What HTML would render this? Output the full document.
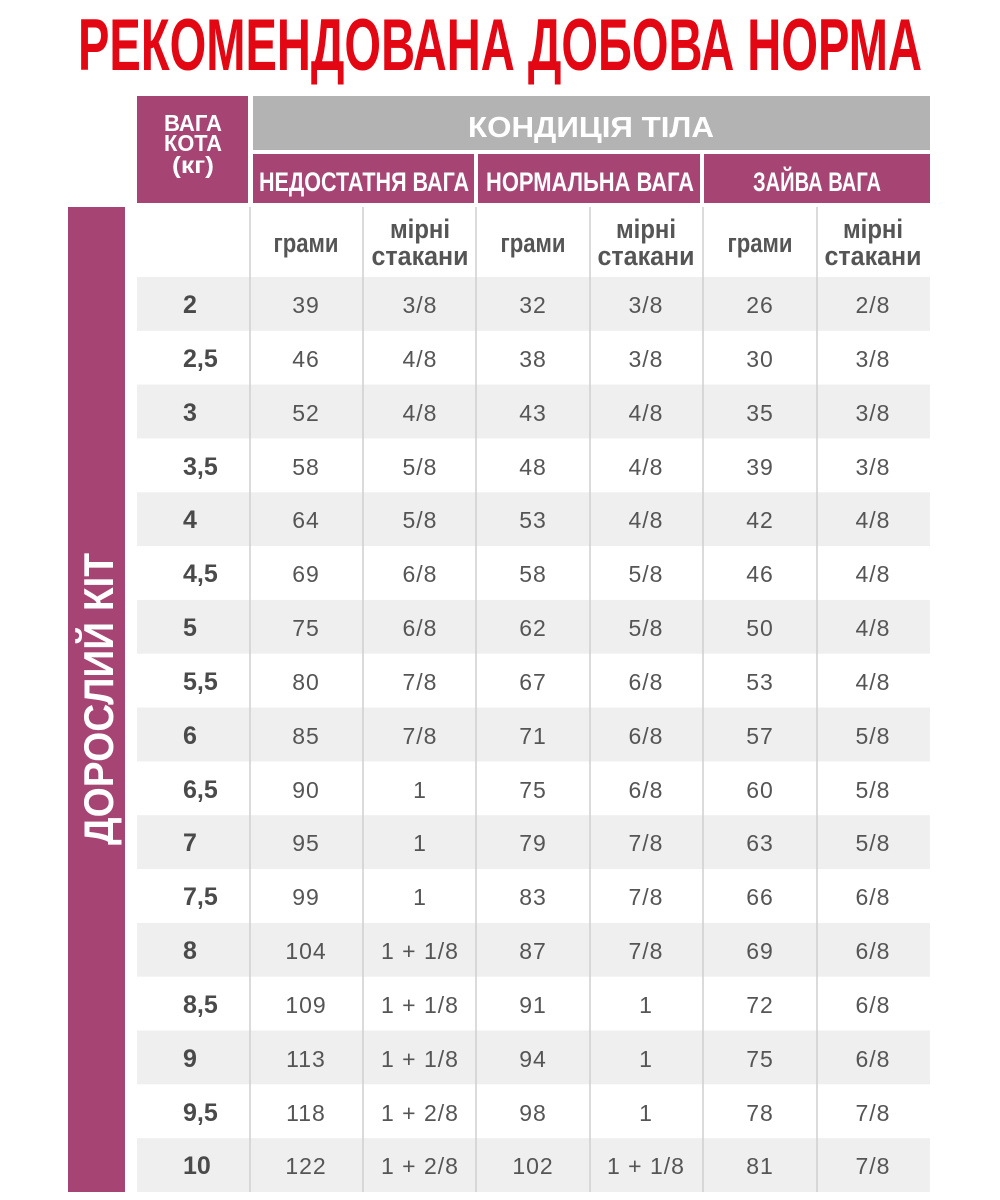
<!DOCTYPE html>
<html><head><meta charset="utf-8"><style>html,body{margin:0;padding:0;background:#fff}svg{display:block}</style></head>
<body>
<svg xmlns="http://www.w3.org/2000/svg" width="1000" height="1200" viewBox="0 0 1000 1200" font-family="Liberation Sans, DejaVu Sans, sans-serif">
<rect width="1000" height="1200" fill="#fff"/>
<text x="500" y="70" font-size="73" font-weight="bold" fill="#e30613" text-anchor="middle" textLength="844" lengthAdjust="spacingAndGlyphs">РЕКОМЕНДОВАНА ДОБОВА НОРМА</text>
<rect x="137" y="96" width="111" height="107" fill="#a64574"/>
<rect x="253" y="96" width="677" height="54" fill="#b3b3b3"/>
<rect x="253" y="154" width="221" height="49" fill="#a64574"/>
<rect x="478" y="154" width="222" height="49" fill="#a64574"/>
<rect x="704" y="154" width="226" height="49" fill="#a64574"/>
<rect x="68" y="207" width="57" height="985" fill="#a64574"/>
<g fill="#fff" font-weight="bold" text-anchor="middle">
<text x="193" y="131" font-size="23" textLength="58" lengthAdjust="spacingAndGlyphs">ВАГА</text>
<text x="193" y="151" font-size="23" textLength="58" lengthAdjust="spacingAndGlyphs">КОТА</text>
<text x="193" y="173" font-size="23" textLength="42" lengthAdjust="spacingAndGlyphs">(кг)</text>
<text x="591" y="137" font-size="29" textLength="246" lengthAdjust="spacingAndGlyphs">КОНДИЦІЯ ТІЛА</text>
<text x="364" y="191" font-size="27" textLength="210" lengthAdjust="spacingAndGlyphs">НЕДОСТАТНЯ ВАГА</text>
<text x="590" y="191" font-size="27" textLength="208" lengthAdjust="spacingAndGlyphs">НОРМАЛЬНА ВАГА</text>
<text x="817" y="191" font-size="27" textLength="128" lengthAdjust="spacingAndGlyphs">ЗАЙВА ВАГА</text>
<text transform="translate(113,699) rotate(-90)" font-size="42" textLength="292" lengthAdjust="spacingAndGlyphs">ДОРОСЛИЙ КІТ</text>
</g>
<g fill="#efefef">
<rect x="137" y="277" width="793" height="53.8"/>
<rect x="137" y="384.6" width="793" height="53.8"/>
<rect x="137" y="492.3" width="793" height="53.8"/>
<rect x="137" y="599.9" width="793" height="53.8"/>
<rect x="137" y="707.6" width="793" height="53.8"/>
<rect x="137" y="815.2" width="793" height="53.8"/>
<rect x="137" y="922.9" width="793" height="53.8"/>
<rect x="137" y="1030.5" width="793" height="53.8"/>
<rect x="137" y="1138.2" width="793" height="53.8"/>
</g>
<g stroke="#cfcfcf" stroke-width="1.5">
<line x1="250" y1="207" x2="250" y2="1192"/>
<line x1="363" y1="207" x2="363" y2="1192"/>
<line x1="476" y1="207" x2="476" y2="1192"/>
<line x1="590" y1="207" x2="590" y2="1192"/>
<line x1="703" y1="207" x2="703" y2="1192"/>
<line x1="817" y1="207" x2="817" y2="1192"/>
</g>
<g fill="#555" font-weight="bold" text-anchor="middle" font-size="27">
<text x="306" y="252" textLength="65" lengthAdjust="spacingAndGlyphs">грами</text>
<text x="533" y="252" textLength="65" lengthAdjust="spacingAndGlyphs">грами</text>
<text x="760" y="252" textLength="65" lengthAdjust="spacingAndGlyphs">грами</text>
<text x="420" y="238" textLength="60" lengthAdjust="spacingAndGlyphs">мірні</text>
<text x="420" y="265" textLength="97" lengthAdjust="spacingAndGlyphs">стакани</text>
<text x="646" y="238" textLength="60" lengthAdjust="spacingAndGlyphs">мірні</text>
<text x="646" y="265" textLength="97" lengthAdjust="spacingAndGlyphs">стакани</text>
<text x="873" y="238" textLength="60" lengthAdjust="spacingAndGlyphs">мірні</text>
<text x="873" y="265" textLength="97" lengthAdjust="spacingAndGlyphs">стакани</text>
</g>
<g fill="#4a4a4a" font-weight="bold" font-size="25">
<text x="183" y="313">2</text>
<text x="183" y="367">2,5</text>
<text x="183" y="421">3</text>
<text x="183" y="475">3,5</text>
<text x="183" y="528">4</text>
<text x="183" y="582">4,5</text>
<text x="183" y="636">5</text>
<text x="183" y="690">5,5</text>
<text x="183" y="744">6</text>
<text x="183" y="798">6,5</text>
<text x="183" y="851">7</text>
<text x="183" y="905">7,5</text>
<text x="183" y="959">8</text>
<text x="183" y="1013">8,5</text>
<text x="183" y="1067">9</text>
<text x="183" y="1121">9,5</text>
<text x="183" y="1174">10</text>
</g>
<g fill="#555" font-size="23" text-anchor="middle" letter-spacing="1">
<text y="313"><tspan x="306">39</tspan><tspan x="420">3/8</tspan><tspan x="533">32</tspan><tspan x="646">3/8</tspan><tspan x="760">26</tspan><tspan x="873">2/8</tspan></text>
<text y="367"><tspan x="306">46</tspan><tspan x="420">4/8</tspan><tspan x="533">38</tspan><tspan x="646">3/8</tspan><tspan x="760">30</tspan><tspan x="873">3/8</tspan></text>
<text y="421"><tspan x="306">52</tspan><tspan x="420">4/8</tspan><tspan x="533">43</tspan><tspan x="646">4/8</tspan><tspan x="760">35</tspan><tspan x="873">3/8</tspan></text>
<text y="475"><tspan x="306">58</tspan><tspan x="420">5/8</tspan><tspan x="533">48</tspan><tspan x="646">4/8</tspan><tspan x="760">39</tspan><tspan x="873">3/8</tspan></text>
<text y="528"><tspan x="306">64</tspan><tspan x="420">5/8</tspan><tspan x="533">53</tspan><tspan x="646">4/8</tspan><tspan x="760">42</tspan><tspan x="873">4/8</tspan></text>
<text y="582"><tspan x="306">69</tspan><tspan x="420">6/8</tspan><tspan x="533">58</tspan><tspan x="646">5/8</tspan><tspan x="760">46</tspan><tspan x="873">4/8</tspan></text>
<text y="636"><tspan x="306">75</tspan><tspan x="420">6/8</tspan><tspan x="533">62</tspan><tspan x="646">5/8</tspan><tspan x="760">50</tspan><tspan x="873">4/8</tspan></text>
<text y="690"><tspan x="306">80</tspan><tspan x="420">7/8</tspan><tspan x="533">67</tspan><tspan x="646">6/8</tspan><tspan x="760">53</tspan><tspan x="873">4/8</tspan></text>
<text y="744"><tspan x="306">85</tspan><tspan x="420">7/8</tspan><tspan x="533">71</tspan><tspan x="646">6/8</tspan><tspan x="760">57</tspan><tspan x="873">5/8</tspan></text>
<text y="798"><tspan x="306">90</tspan><tspan x="420">1</tspan><tspan x="533">75</tspan><tspan x="646">6/8</tspan><tspan x="760">60</tspan><tspan x="873">5/8</tspan></text>
<text y="851"><tspan x="306">95</tspan><tspan x="420">1</tspan><tspan x="533">79</tspan><tspan x="646">7/8</tspan><tspan x="760">63</tspan><tspan x="873">5/8</tspan></text>
<text y="905"><tspan x="306">99</tspan><tspan x="420">1</tspan><tspan x="533">83</tspan><tspan x="646">7/8</tspan><tspan x="760">66</tspan><tspan x="873">6/8</tspan></text>
<text y="959"><tspan x="306">104</tspan><tspan x="420">1 + 1/8</tspan><tspan x="533">87</tspan><tspan x="646">7/8</tspan><tspan x="760">69</tspan><tspan x="873">6/8</tspan></text>
<text y="1013"><tspan x="306">109</tspan><tspan x="420">1 + 1/8</tspan><tspan x="533">91</tspan><tspan x="646">1</tspan><tspan x="760">72</tspan><tspan x="873">6/8</tspan></text>
<text y="1067"><tspan x="306">113</tspan><tspan x="420">1 + 1/8</tspan><tspan x="533">94</tspan><tspan x="646">1</tspan><tspan x="760">75</tspan><tspan x="873">6/8</tspan></text>
<text y="1121"><tspan x="306">118</tspan><tspan x="420">1 + 2/8</tspan><tspan x="533">98</tspan><tspan x="646">1</tspan><tspan x="760">78</tspan><tspan x="873">7/8</tspan></text>
<text y="1174"><tspan x="306">122</tspan><tspan x="420">1 + 2/8</tspan><tspan x="533">102</tspan><tspan x="646">1 + 1/8</tspan><tspan x="760">81</tspan><tspan x="873">7/8</tspan></text>
</g>
</svg>
</body></html>
